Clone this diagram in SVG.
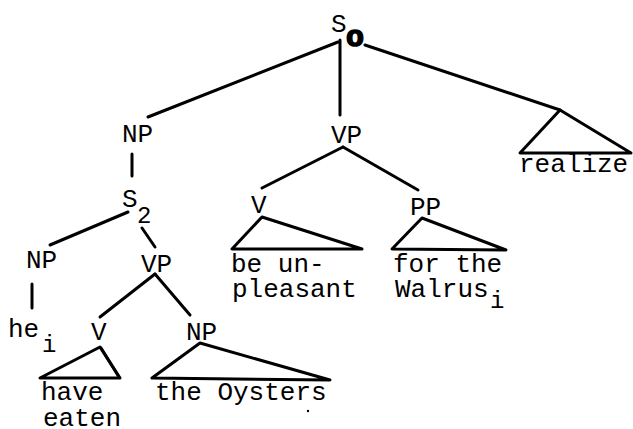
<svg xmlns="http://www.w3.org/2000/svg" width="633" height="429" viewBox="0 0 633 429">
<defs>
<style>
text { font-family: "Liberation Mono", "DejaVu Sans Mono", monospace; font-size: 26px; fill: #000; }
.sub { font-size: 24px; }
.bold { font-weight: bold; stroke: #000; stroke-width: 1.6px; font-size: 30px; }
.edge { stroke: #000; stroke-width: 3; fill: none; stroke-linecap: round; stroke-linejoin: round; }
</style>
</defs>
<rect width="633" height="429" fill="#fff"/>
<g id="connectors">
  <line class="edge" x1="338" y1="42" x2="148" y2="117"/>
  <line class="edge" x1="340" y1="40" x2="340" y2="115"/>
  <line class="edge" x1="365" y1="45" x2="560" y2="110"/>
  <polygon class="edge" points="560,110 520,153 631,153"/>
  <line class="edge" x1="132" y1="154" x2="132" y2="176"/>
  <line class="edge" x1="128" y1="212" x2="50" y2="245"/>
  <line class="edge" x1="142" y1="228" x2="155" y2="247"/>
  <line class="edge" x1="343" y1="147" x2="262" y2="188"/>
  <line class="edge" x1="343" y1="147" x2="418" y2="190"/>
  <polygon class="edge" points="262,217 232,249 362,249"/>
  <polygon class="edge" points="422,218 392,249 506,250"/>
  <line class="edge" x1="32" y1="284" x2="32" y2="308"/>
  <line class="edge" x1="155" y1="274" x2="100" y2="317"/>
  <line class="edge" x1="155" y1="274" x2="190" y2="315"/>
  <polygon class="edge" points="100,347 40,378 120,378"/>
  <line class="edge" x1="101" y1="348" x2="119" y2="377" stroke-width="5"/>
  <polygon class="edge" points="200,343 152,378 330,380"/>
</g>
<g id="S0"><text x="331" y="32">S</text><text class="bold" x="346" y="46">o</text></g>
<g id="NP1"><text x="122" y="142">NP</text></g>
<g id="VP1"><text x="331" y="143">VP</text></g>
<g id="realize"><text x="519" y="172">realize</text></g>
<g id="S2"><text x="122" y="207">S</text><text class="sub" x="137" y="223">2</text></g>
<g id="V1"><text x="251" y="213">V</text></g>
<g id="PP"><text x="410" y="215">PP</text></g>
<g id="be-unpleasant"><text x="231" y="272">be un-</text><text x="232" y="297">pleasant</text></g>
<g id="for-the-walrus"><text x="393" y="272">for the</text><text x="395" y="297">Walrus</text><text class="sub" x="490" y="308">i</text></g>
<g id="NP2"><text x="26" y="268">NP</text></g>
<g id="VP2"><text x="141" y="272">VP</text></g>
<g id="he"><text x="8" y="337">he</text><text class="sub" x="42" y="352">i</text></g>
<g id="V2"><text x="91" y="340">V</text></g>
<g id="NP3"><text x="186" y="340">NP</text></g>
<g id="have-eaten"><text x="41" y="400">have</text><text x="43" y="426">eaten</text></g>
<g id="the-oysters"><text x="155" y="400">the Oysters</text></g>
<circle cx="308" cy="411" r="1.2" fill="#000"/>
</svg>
